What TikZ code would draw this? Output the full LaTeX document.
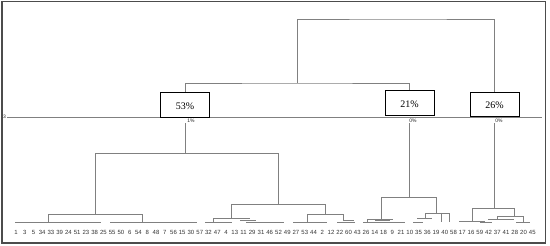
\documentclass[tikz,border=0pt]{standalone}
\usepackage{fontspec}
\setmainfont{Liberation Serif}
\setsansfont{Liberation Sans}
\begin{document}
\begin{tikzpicture}[x=1pt,y=-1pt,
    dline/.style={draw=gray, line width=0.75pt},
    pbox/.style={draw=black, fill=white, line width=0.7pt, minimum width=49pt,
      minimum height=25pt, inner sep=0pt, text height=10pt, text depth=0pt,
      font=\fontsize{10}{12}\selectfont},
    leaf/.style={inner sep=0pt, text=black!80, font=\sffamily\fontsize{6}{7}\selectfont},
    tiny/.style={inner sep=0.5pt, text=black!85, font=\sffamily\fontsize{5}{6}\selectfont}]
    \useasboundingbox (0,0) rectangle (550,246);
    % Frame
    \draw[gray!60!black, line width=1.2pt] (2,1.5) rectangle (545.5,243);
    % Cut line
    \draw[dline] (7,117) -- (542,117);
    \node[tiny] (cut) at (4.5,117) {3};

    % Groups
    \node[pbox] (b53) at (185,104.5) {53\%};
    \node[pbox] (b21) at (409.5,103) {21\%};
    \node[pbox, minimum height=24pt] (b26) at (494.5,104) {26\%};
    \node[tiny] (p53) at (191,121) {1\%};
    \node[tiny] (p21) at (413,121) {0\%};
    \node[tiny] (p26) at (499,121) {0\%};

    % Upper tree
    \coordinate (j1) at (297,83);
    \coordinate (j0) at (400,19);
    \draw[dline] (b53.north) |- (j1) -| (b21.north);
    \draw[dline] (j1) |- (j0) -| (b26.north);

    % Lower trees
    \coordinate (c53) at (185,153);
    \coordinate (c21) at (409.5,197);
    \coordinate (c26) at (494.5,208);
    \draw[dline] (b53.south |- p53.south) -- (c53);
    \draw[dline] (b21.south |- p21.south) -- (c21);
    \draw[dline] (b26.south |- p26.south) -- (c26);

    % 53% branch
    \draw[dline] (95,214) -- (95,153) -- (278,153) -- (278,204);
    \draw[dline] (48,222) -- (48,214) -- (142,214) -- (142,222);
    \draw[dline] (15,222) -- (101,222) (110,222) -- (197,222);
    \draw[dline] (231,218) -- (231,204) -- (325,204) -- (325,214);
    \draw[dline] (213,222) -- (213,218) -- (250,218);
    \draw[dline] (205,222) -- (232,222) (240,220) -- (256,220) (246,222) -- (262,222);
    \draw[dline] (307,222) -- (307,214) -- (343,214) -- (343,220);
    \draw[dline] (262,222) -- (284,222) (293,222) -- (327,222);
    \draw[dline] (337,222) -- (355,222) (343,220) -- (354,220);

    % 21% branch
    \draw[dline] (381,219) -- (381,197) -- (436,197) -- (436,213);
    \draw[dline] (367,222) -- (367,219) -- (393,219);
    \draw[dline] (363,222) -- (405,222) (375,220) -- (390,220);
    \draw[dline] (425,218) -- (425,213) -- (449,213) -- (449,222);
    \draw[dline] (441,213) -- (441,222) (417,218) -- (432,218) (413,222) -- (423,222);

    % 26% branch
    \draw[dline] (472,221) -- (472,208) -- (514,208) -- (514,216);
    \draw[dline] (459,221) -- (485,221) (480,222) -- (492,222);
    \draw[dline] (497,219) -- (497,216) -- (523,216) -- (523,222);
    \draw[dline] (488,219) -- (507,219) (505,219) -- (514,219) (516,222) -- (530,222);

    % Leaves
    \foreach \lbl [count=\i from 0] in {1,3,5,34,33,39,24,51,23,38,25,55,50,6,54,8,48,7,56,15,
      30,57,32,47,4,13,11,29,31,46,52,49,27,53,44,2,12,22,60,43,
      26,14,18,9,21,10,35,36,19,40,58,17,16,59,42,37,41,28,20,45}
      \node[leaf] (l\i) at ({16+8.75*\i},232.5) {\lbl};
\end{tikzpicture}
\end{document}
